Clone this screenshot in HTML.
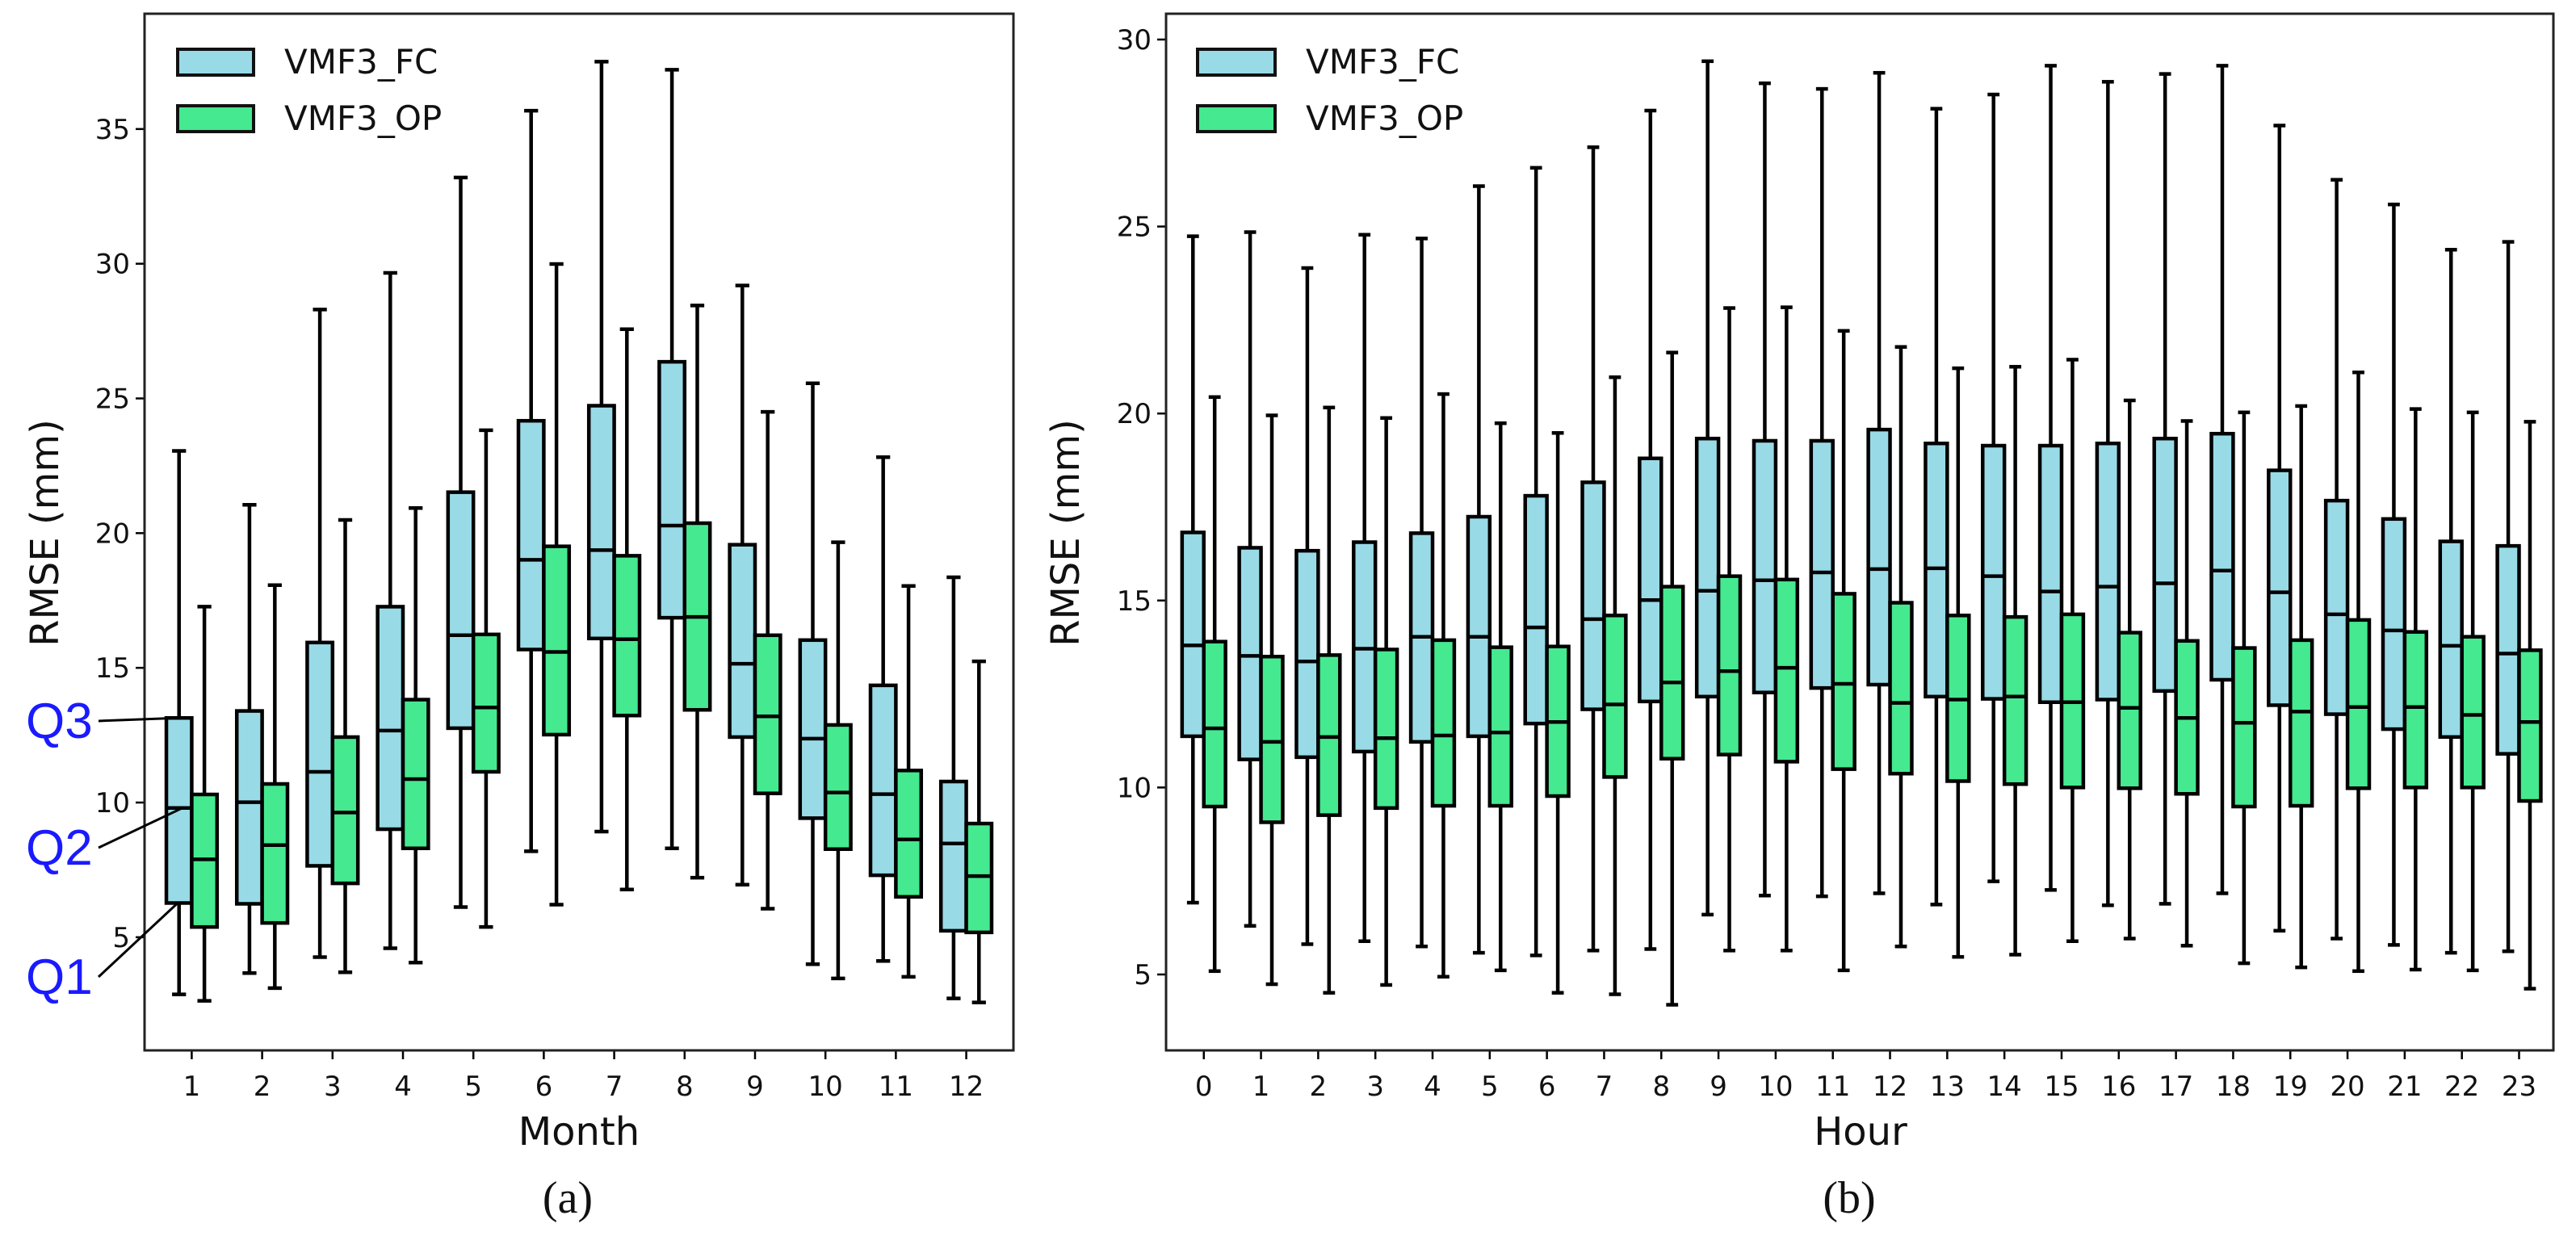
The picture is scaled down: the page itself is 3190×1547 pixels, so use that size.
<!DOCTYPE html>
<html><head><meta charset="utf-8">
<style>
html,body{margin:0;padding:0;background:#fff;}
svg{display:block;font-family:"DejaVu Sans","Liberation Sans",sans-serif;}
</style></head>
<body>
<svg id="chart" width="3190" height="1547" viewBox="0 0 3190 1547" xmlns="http://www.w3.org/2000/svg"></svg>
<script>
// ---- Panel (a): monthly ----
const monthCats = [1,2,3,4,5,6,7,8,9,10,11,12];
// [whiskerLow, Q1, median, Q3, whiskerHigh]
const monthFC = [
 [2.88,6.27,9.8,13.14,23.05],[3.67,6.24,10.01,13.4,21.05],[4.26,7.65,11.14,15.94,28.3],
 [4.59,9.01,12.67,17.27,29.66],[6.12,12.76,16.21,21.52,33.2],[8.19,15.68,19.01,24.17,35.68],
 [8.92,16.09,19.37,24.73,37.5],[8.3,16.86,20.28,26.36,37.2],[6.95,12.43,15.15,19.57,29.19],
 [4.0,9.42,12.37,16.03,25.56],[4.12,7.3,10.31,14.35,22.82],[2.73,5.24,8.48,10.78,18.36]];
const monthOP = [
 [2.64,5.38,7.89,10.3,17.27],[3.11,5.53,8.42,10.69,18.07],[3.7,7.0,9.63,12.43,20.49],
 [4.06,8.3,10.87,13.82,20.93],[5.38,11.14,13.53,16.24,23.82],[6.21,12.52,15.59,19.51,29.99],
 [6.77,13.23,16.06,19.16,27.57],[7.21,13.44,16.89,20.37,28.45],[6.06,10.34,13.2,16.21,24.5],
 [3.47,8.27,10.37,12.88,19.66],[3.53,6.5,8.63,11.19,18.04],[2.58,5.18,7.27,9.22,15.24]];
const monthTicks = [5,10,15,20,25,30,35];

// ---- Panel (b): hourly ----
const hourCats = [0,1,2,3,4,5,6,7,8,9,10,11,12,13,14,15,16,17,18,19,20,21,22,23];
const hourFC = [
 [6.92,11.37,13.8,16.82,24.74],[6.3,10.75,13.52,16.41,24.85],[5.81,10.81,13.37,16.33,23.89],
 [5.89,10.96,13.71,16.56,24.78],[5.75,11.22,14.03,16.8,24.68],[5.58,11.37,14.03,17.24,26.08],
 [5.51,11.71,14.28,17.8,26.57],[5.64,12.09,14.5,18.16,27.12],[5.68,12.3,15.01,18.8,28.1],
 [6.6,12.43,15.26,19.33,29.42],[7.11,12.54,15.54,19.27,28.83],[7.09,12.66,15.75,19.27,28.68],
 [7.17,12.75,15.84,19.57,29.11],[6.87,12.43,15.86,19.2,28.15],[7.49,12.37,15.65,19.14,28.53],
 [7.26,12.28,15.24,19.14,29.3],[6.85,12.35,15.37,19.2,28.87],[6.89,12.58,15.46,19.33,29.08],
 [7.17,12.88,15.8,19.46,29.3],[6.17,12.2,15.22,18.48,27.7],[5.96,11.96,14.63,17.67,26.25],
 [5.79,11.56,14.2,17.18,25.59],[5.58,11.35,13.79,16.58,24.38],[5.62,10.9,13.58,16.46,24.59]];
const hourOP = [
 [5.09,9.49,11.58,13.9,20.44],[4.74,9.07,11.22,13.5,19.95],[4.51,9.26,11.35,13.54,20.16],
 [4.72,9.45,11.32,13.69,19.88],[4.94,9.51,11.39,13.94,20.52],[5.11,9.51,11.47,13.75,19.74],
 [4.51,9.77,11.75,13.77,19.48],[4.47,10.28,12.22,14.6,20.97],[4.19,10.77,12.81,15.37,21.63],
 [5.64,10.88,13.11,15.65,22.82],[5.64,10.69,13.2,15.56,22.84],[5.11,10.49,12.77,15.18,22.21],
 [5.75,10.37,12.26,14.94,21.78],[5.47,10.17,12.35,14.6,21.21],[5.53,10.09,12.43,14.56,21.25],
 [5.89,10.0,12.28,14.63,21.44],[5.96,9.98,12.13,14.14,20.35],[5.77,9.83,11.86,13.92,19.8],
 [5.3,9.49,11.73,13.73,20.03],[5.19,9.51,12.03,13.94,20.2],[5.09,9.98,12.15,14.48,21.1],
 [5.13,10.0,12.15,14.16,20.12],[5.11,10.0,11.94,14.03,20.03],[4.62,9.64,11.75,13.67,19.78]];
const hourTicks = [5,10,15,20,25,30];

const NS = "http://www.w3.org/2000/svg";
const svg = document.getElementById('chart');
function mk(tag, attrs, parent){
  const e = document.createElementNS(NS, tag);
  for (const k in attrs) e.setAttribute(k, attrs[k]);
  (parent||svg).appendChild(e);
  return e;
}
const FC_COLOR = "#99dae7", OP_COLOR = "#45e98f";

function drawPanel(cfg){
  const g = mk('g', {});
  
  
  const xs = v => cfg.left + (v - cfg.xmin) / (cfg.xmax - cfg.xmin) * (cfg.right - cfg.left);
  const ys = v => cfg.bottom - (v - cfg.ymin) / (cfg.ymax - cfg.ymin) * (cfg.bottom - cfg.top);
  const unit = (cfg.right - cfg.left) / (cfg.xmax - cfg.xmin);
  const bw = cfg.boxW * unit, cw = bw * 0.55;

  function box(st, cx, color, nm){
    const bg = mk('g', {}, g);
    
    
    const [lo,q1,md,q3,hi] = st;
    mk('line',{x1:cx,x2:cx,y1:ys(hi),y2:ys(q3),stroke:'#000','stroke-width':4.5},bg);
    mk('line',{x1:cx,x2:cx,y1:ys(q1),y2:ys(lo),stroke:'#000','stroke-width':4.5},bg);
    mk('line',{x1:cx-cw/2,x2:cx+cw/2,y1:ys(hi),y2:ys(hi),stroke:'#000','stroke-width':4.5},bg);
    mk('line',{x1:cx-cw/2,x2:cx+cw/2,y1:ys(lo),y2:ys(lo),stroke:'#000','stroke-width':4.5},bg);
    mk('rect',{x:cx-bw/2,y:ys(q3),width:bw,height:ys(q1)-ys(q3),fill:color,stroke:'#000','stroke-width':4.5},bg);
    mk('line',{x1:cx-bw/2,x2:cx+bw/2,y1:ys(md),y2:ys(md),stroke:'#000','stroke-width':4.5},bg);
  }
  cfg.cats.forEach((c,i)=>{
    box(cfg.fc[i], xs(c - cfg.off), FC_COLOR, 'fc-box-' + c);
    box(cfg.op[i], xs(c + cfg.off), OP_COLOR, 'op-box-' + c);
    mk('line',{x1:xs(c),x2:xs(c),y1:cfg.bottom,y2:cfg.bottom+11,stroke:'#000','stroke-width':2.5},g);
    const t = mk('text',{x:xs(c),y:cfg.bottom+56,'font-size':34,'text-anchor':'middle',fill:'#111'},g);
    t.textContent = c;
    
    
  });
  cfg.ticks.forEach(v=>{
    mk('line',{x1:cfg.left-11,x2:cfg.left,y1:ys(v),y2:ys(v),stroke:'#000','stroke-width':2.5},g);
    const t = mk('text',{x:cfg.left-18,y:ys(v)+12,'font-size':34,'text-anchor':'end',fill:'#111'},g);
    t.textContent = v;
    
    
  });
  const fr = mk('rect',{x:cfg.left,y:cfg.top,width:cfg.right-cfg.left,height:cfg.bottom-cfg.top,fill:'none',stroke:'#222','stroke-width':3},g);
  
  
  const lg = mk('g',{},g);
  
  
  [['VMF3_FC',FC_COLOR,61],['VMF3_OP',OP_COLOR,131]].forEach(([lab,col,y])=>{
    const e = mk('g',{},lg);
    
    
    mk('rect',{x:cfg.legX,y:y,width:cfg.legW,height:32,fill:col,stroke:'#111','stroke-width':4},e);
    const t = mk('text',{x:cfg.legX+cfg.legW+38,y:y+30,'font-size':42,fill:'#111'},e);
    t.textContent = lab;
  });
  const yl = mk('text',{x:cfg.ylabX,y:660,'font-size':48,'text-anchor':'middle',fill:'#111',transform:`rotate(-90 ${cfg.ylabX} 660)`},g);
  yl.textContent = 'RMSE (mm)';
  
  
  const xl = mk('text',{x:cfg.xlabX,y:1418,'font-size':48,'text-anchor':'middle',fill:'#111'},g);
  xl.textContent = cfg.xlabel;
  
  
  const cap = mk('text',{x:cfg.xlabX-14,y:1502,'font-size':56,'text-anchor':'middle',fill:'#111','font-family':'"Liberation Serif",serif'},g);
  cap.textContent = cfg.caption;
  
  
  return {xs, ys, off:cfg.off, bw};
}

const pa = drawPanel({name:'panel-a-month',left:179,right:1255,top:17,bottom:1301,
  xmin:0.33,xmax:12.67,ymin:0.8,ymax:39.28,cats:monthCats,fc:monthFC,op:monthOP,
  ticks:monthTicks,off:0.18,boxW:0.36,legX:220,legW:94,ylabX:72,xlabX:717,xlabel:'Month',caption:'(a)'});
const pb = drawPanel({name:'panel-b-hour',left:1444,right:3162,top:17,bottom:1301,
  xmin:-0.66,xmax:23.6,ymin:2.97,ymax:30.69,cats:hourCats,fc:hourFC,op:hourOP,
  ticks:hourTicks,off:0.19,boxW:0.38,legX:1483,legW:96,ylabX:1336,xlabX:2304,xlabel:'Hour',caption:'(b)'});

const ann = mk('g',{});


const cx1 = pa.xs(1 - pa.off) - pa.bw/2;
[['Q3',monthFC[0][3],893,0],['Q2',monthFC[0][2],1050,6],['Q1',monthFC[0][1],1210,0]].forEach(([lab,v,ty,dx])=>{
  const t = mk('text',{x:32,y:ty+21,'font-size':62,fill:'#1a1aff','font-family':'"Liberation Sans",sans-serif'},ann);
  t.textContent = lab;
  
  
  mk('line',{x1:122,y1:ty,x2:cx1+14+dx,y2:pa.ys(v),stroke:'#000','stroke-width':3},ann);
});
</script>
</body></html>
